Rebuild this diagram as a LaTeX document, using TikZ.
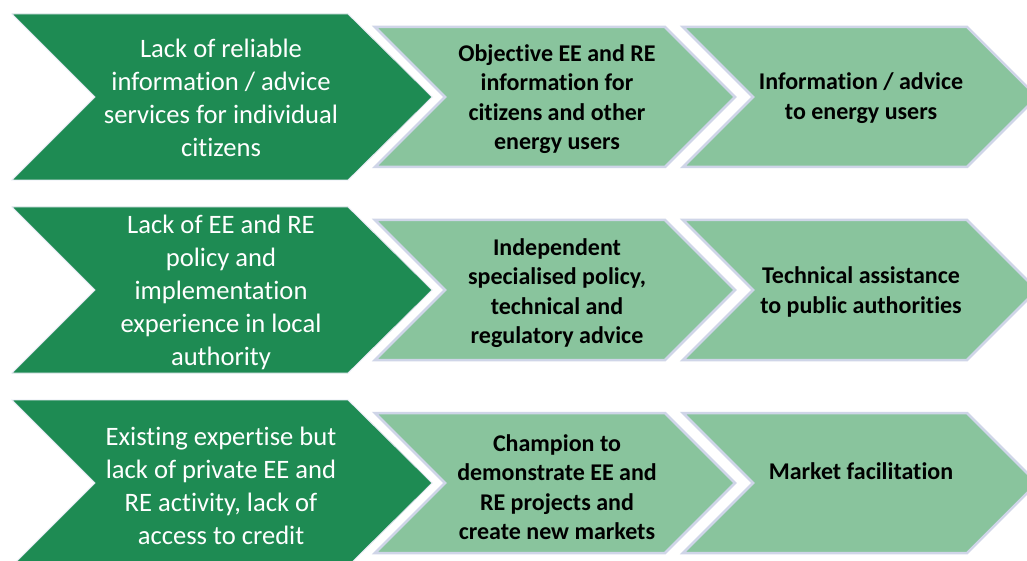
\documentclass[tikz,border=0pt]{standalone}
\usepackage{fontspec}
\setmainfont{Carlito}[Ligatures={NoCommon}]
\definecolor{darkgr}{HTML}{1E8B53}
\definecolor{lightgr}{HTML}{89C49D}
\definecolor{edgecol}{HTML}{CFD5E8}
\tikzset{
  darkchev/.style={fill=darkgr, draw=edgecol!60, line width=0.8pt, line join=miter},
  lightchev/.style={fill=lightgr, draw=edgecol, line width=2.5pt, line join=miter},
  darktext/.style={text=white, align=center, inner sep=0pt, font=\fontsize{26.6}{33}\selectfont},
  lighttext/.style={text=black, align=center, inner sep=0pt, font=\bfseries\fontsize{24}{29.5}\selectfont},
}
\begin{document}
\begin{tikzpicture}[x=1pt,y=-1pt]
\useasboundingbox (0,0) rectangle (1027,561);
\clip (0,0) rectangle (1027,561);
\fill[white] (0,0) rectangle (1027,561);
\foreach \c in {97,290,483}{
  \path[darkchev] (12,\c-83) -- (348,\c-83) -- (432,\c) -- (348,\c+83) -- (12,\c+83) -- (95,\c) -- cycle;
  \path[lightchev] (375,\c-70) -- (665,\c-70) -- (735,\c) -- (665,\c+70) -- (375,\c+70) -- (445,\c) -- cycle;
  \path[lightchev] (683,\c-70) -- (967,\c-70) -- (1037,\c) -- (967,\c+70) -- (683,\c+70) -- (753,\c) -- cycle;
}
\node[darktext] (p1) at (221,98) {Lack of reliable\\information / advice\\services for individual\\citizens};
\node[lighttext] (s1) at (557,99) {Objective EE and RE\\information for\\citizens and other\\energy users};
\node[lighttext] (o1) at (861,98) {Information / advice\\to energy users};
\node[darktext] (p2) at (221,292) {Lack of EE and RE\\policy and\\implementation\\experience in local\\authority};
\node[lighttext] (s2) at (557,293) {Independent\\specialised policy,\\technical and\\regulatory advice};
\node[lighttext] (o2) at (861,292) {Technical assistance\\to public authorities};
\node[darktext] (p3) at (221,486) {Existing expertise but\\lack of private EE and\\RE activity, lack of\\access to credit};
\node[lighttext] (s3) at (557,487) {Champion to\\demonstrate EE and\\RE projects and\\create new markets};
\node[lighttext] (o3) at (861,471) {Market facilitation};
\end{tikzpicture}
\end{document}
